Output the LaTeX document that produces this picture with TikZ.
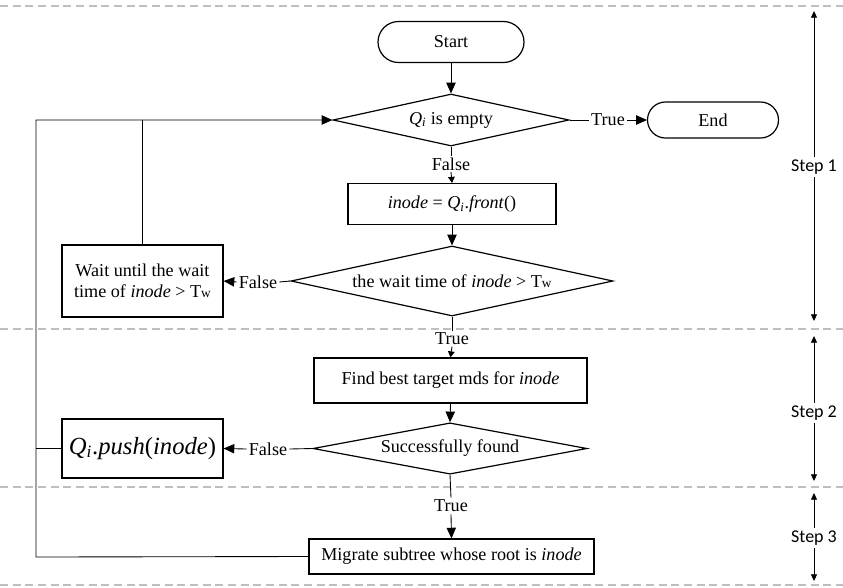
\documentclass[tikz,border=0pt]{standalone}
\usepackage{fontspec}
\setmainfont{Liberation Serif}
\newfontfamily\stepfont{Carlito}
\usetikzlibrary{shapes.geometric,arrows.meta}
\newcommand{\Qi}{\textit{Q}\textsubscript{\textit{i}}}
\newcommand{\Tw}{T{\fontsize{10}{10}\selectfont w}}
\def\px{0.75pt}
\begin{document}
\begin{tikzpicture}[x=0.75pt,y=-0.75pt,
  every node/.style={font=\fontsize{13.6}{16}\selectfont},
  box/.style={draw, line width=0.9pt, rectangle, inner sep=2pt, align=center},
  term/.style={box, rounded corners=#1},
  dia/.style={draw, line width=0.9pt, diamond, inner sep=0pt, aspect=4},
  lab/.style={inner sep=1.5pt},
  link/.style={line width=0.65pt, draw=black},
  arr/.style={link, -{Triangle[length=8pt,width=7pt]}},
  sarr/.style={link, -{Triangle[length=4.5pt,width=5pt]}},
  sep/.style={draw=black!25, line width=1.5pt, dash pattern=on 6pt off 3.5pt},
  steparr/.style={line width=0.6pt, -{Triangle[length=5pt,width=4.5pt]}},
  steplab/.style={font=\stepfont\fontsize{13.5}{15}\selectfont, inner sep=2pt}
]
\useasboundingbox (0,0) rectangle (843,587);

% separators
\draw[sep] (0,6) -- (843,6);
\draw[sep] (0,329) -- (843,329);
\draw[sep] (0,487) -- (843,487);
\draw[sep] (0,585) -- (843,585);

% nodes
\node[term=15.4pt, minimum width=146*\px, minimum height=41*\px] (start) at (451,42) {Start};
\node[dia, minimum width=236*\px, minimum height=52*\px] (d1) at (451,120) {\Qi\ is empty};
\node[term=13.5pt, minimum width=131*\px, minimum height=36*\px] (end) at (713,120) {End};
\node[box, minimum width=208*\px, minimum height=41*\px] (front) at (452,204) {\textit{inode} = \Qi.\textit{front}()};
\node[dia, minimum width=322*\px, minimum height=70*\px] (d2) at (452,281) {the wait time of \textit{inode} > \Tw};
\node[box, minimum width=161*\px, minimum height=72*\px] (wait) at (142.5,281) {Wait until the wait\\time of \textit{inode} > \Tw};
\node[box, minimum width=273*\px, minimum height=45*\px] (find) at (450.5,380.5) {Find best target mds for \textit{inode}};
\node[dia, minimum width=274*\px, minimum height=45*\px] (d3) at (450,448.5) {Successfully found};
\node[box, minimum width=161*\px, minimum height=59*\px, font=\fontsize{18.5}{21}\selectfont] (push) at (142.5,448.5) {\Qi.\textit{push}(\textit{inode})};
\node[box, minimum width=285*\px, minimum height=35*\px] (migrate) at (451.5,556.5) {Migrate subtree whose root is \textit{inode}};

% labels
\node[lab] (t1) at (608,120) {True};
\node[lab, inner sep=1pt] (f1) at (451,164) {False};
\node[lab] (f2) at (258,282) {False};
\node[lab, inner sep=1pt] (t2) at (452,339) {True};
\node[lab] (f3) at (268,449) {False};
\node[lab] (t3) at (451,506) {True};

% connectors
\draw[arr] (start) -- (d1.north);
\draw[link] (d1.east) -- (t1.west);
\draw[arr] (t1.east) -- (end.west);
\draw[link] (d1.south) -- (f1.north);
\draw[sarr] (f1.south) -- (front.north);
\draw[arr] (front.south) -- (d2.north);
\draw[link] (d2.west) -- (f2.east);
\draw[arr] (f2.west) -- (wait.east);
\draw[link] (d2.south) -- (t2.north);
\draw[sarr] (t2.south) -- (find.north);
\draw[arr] (find.south) -- (d3.north);
\draw[link] (d3.west) -- (f3.east);
\draw[arr] (f3.west) -- (push.east);
\draw[link] (d3.south) -- (t3.north);
\draw[arr] (t3.south) -- (migrate.north);

\coordinate (lb) at (36,557);
\coordinate (lt) at (36,120);
\draw[arr] (migrate.west) -- (lb) -- (lt) -- (d1.west);
\draw[link] (wait.north) -- (wait.north |- lt);
\draw[link] (push.west) -- (push.west -| lb);

% steps
\node[steplab] (s1) at (814,167) {Step 1};
\coordinate (s1t) at (814,11);
\coordinate (s1b) at (814,321);
\draw[steparr] (s1) -- (s1t);
\draw[steparr] (s1) -- (s1b);
\node[steplab] (s2) at (814,413) {Step 2};
\coordinate (s2t) at (814,336);
\coordinate (s2b) at (814,481);
\draw[steparr] (s2) -- (s2t);
\draw[steparr] (s2) -- (s2b);
\node[steplab] (s3) at (814,538) {Step 3};
\coordinate (s3t) at (814,493);
\coordinate (s3b) at (814,581);
\draw[steparr] (s3) -- (s3t);
\draw[steparr] (s3) -- (s3b);
\end{tikzpicture}
\end{document}
